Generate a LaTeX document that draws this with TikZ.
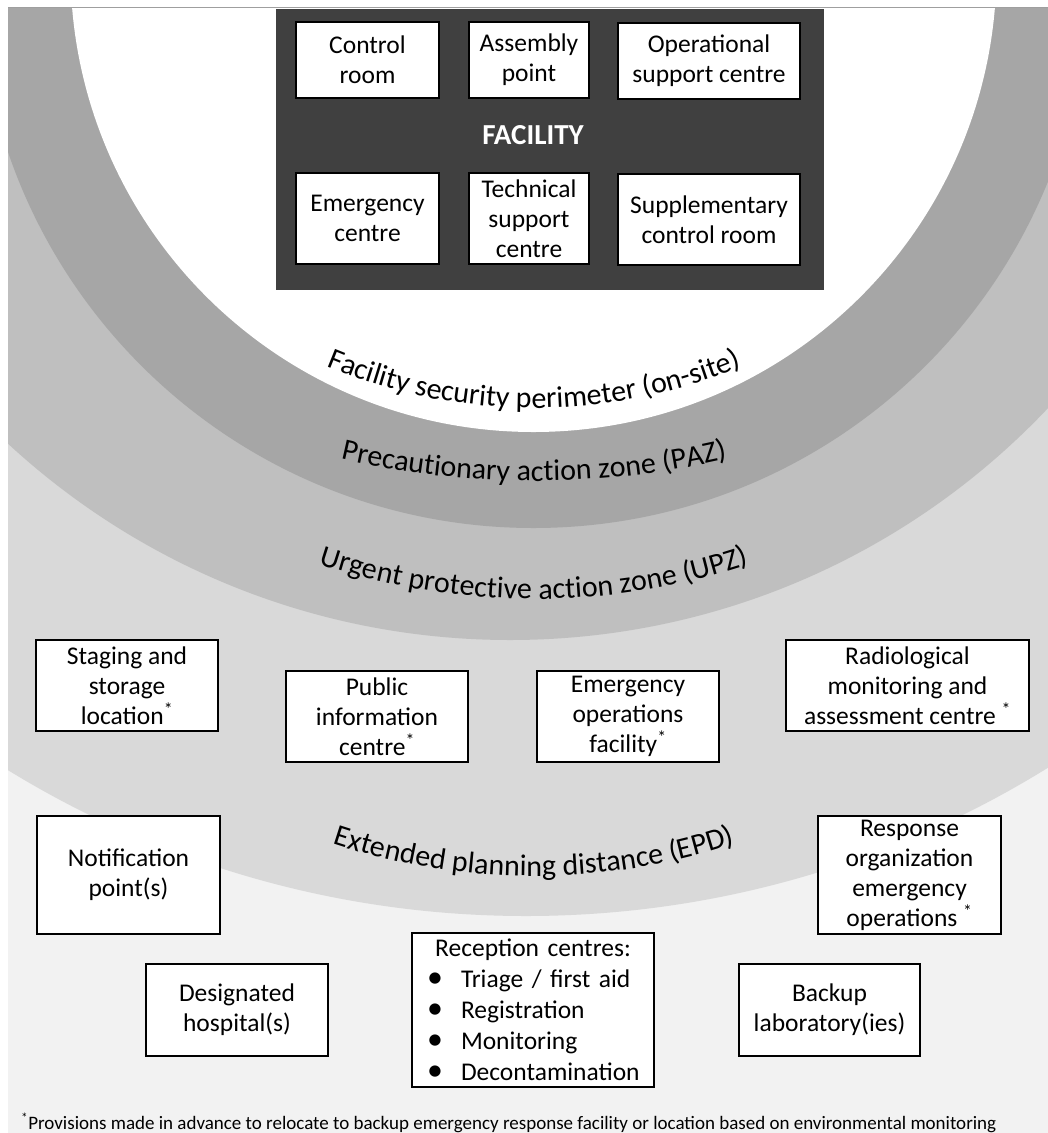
\documentclass[tikz,border=0pt]{standalone}
\usepackage{fontspec}
\setmainfont{Carlito}
\usetikzlibrary{decorations.text,calc}
\definecolor{bgc}{HTML}{F2F2F2}
\definecolor{epdc}{HTML}{D9D9D9}
\definecolor{upzc}{HTML}{BFBFBF}
\definecolor{pazc}{HTML}{A6A6A6}
\definecolor{facc}{HTML}{404040}
\newcommand\arcfont{\fontsize{30}{36}\selectfont}
\newcommand\fnast{\textsuperscript{*}}
\newcommand\bul{\makebox[34pt][l]{\scalebox{1.25}{\textbullet}}}
\begin{document}
\begin{tikzpicture}[x=1pt,y=-1pt,
  box/.style={draw=black, line width=1.6pt, fill=white, align=center, inner sep=0pt,
    font=\fontsize{25.5}{30}\selectfont},
  arctext/.style={decorate, decoration={text along path, text align=center, text={|\arcfont|#1}}}]
\useasboundingbox (0,0) rectangle (1048,1133);
\fill[white] (0,0) rectangle (1048,1133);
\begin{scope}
  \clip (8,7) rectangle (1048,1140);
  \fill[bgc] (8,7) rectangle (1048,1140);
  \fill[epdc] (526,-76) circle[radius=992pt];
  \fill[upzc] (510,-100) circle[radius=740pt];
  \fill[pazc] (533.5,-27) circle[radius=555pt];
  \fill[white] (533.5,-31) circle[radius=463pt];
\end{scope}
\draw[gray!75, line width=1pt] (8,7.5) -- (1048,7.5);

% facility
\node[fill=facc, minimum width=548pt, minimum height=281pt, inner sep=0pt] (fac) at (550,149.5) {};
\node[text=white, font=\fontsize{29}{34}\selectfont\bfseries] (factxt) at (533,135) {FACILITY};
\node[box, minimum width=143pt, minimum height=76pt] (cr) at (367.5,60) {Control\\room};
\node[box, minimum width=120pt, minimum height=76pt] (ap) at (529,60) {Assembly\\point};
\node[box, minimum width=182pt, minimum height=76pt] (osc) at (709,61) {Operational\\support centre};
\node[box, minimum width=143pt, minimum height=91pt] (ec) at (367.5,218.5) {Emergency\\centre};
\node[box, minimum width=120pt, minimum height=91pt] (tsc) at (529,218.5) {Technical\\support\\centre};
\node[box, minimum width=182pt, minimum height=91pt] (scr) at (709,219.5) {Supplementary\\control room};

% arc labels
\path[arctext={Facility security perimeter (on-site)}] ($(534,-132)+(235:540pt)$) arc[start angle=235, end angle=305, radius=540pt];
\path[arctext={Precautionary action zone (PAZ)}] ($(534,-369)+(250:850pt)$) arc[start angle=250, end angle=290, radius=850pt];
\path[arctext={Urgent protective action zone (UPZ)}] ($(534,-81)+(245:680pt)$) arc[start angle=245, end angle=295, radius=680pt];
\path[arctext={Extended planning distance (EPD)}] ($(534,236)+(245:640pt)$) arc[start angle=245, end angle=295, radius=640pt];

% outer boxes
\node[box, minimum width=182pt, minimum height=91pt] (ssl) at (127,685.5) {Staging and\\storage\\location\fnast};
\node[box, minimum width=182pt, minimum height=91pt] (pic) at (377,716.5) {Public\\information\\centre\fnast};
\node[box, minimum width=182pt, minimum height=91pt] (eof) at (628,716.5) {Emergency\\operations\\facility\fnast};
\node[box, minimum width=243pt, minimum height=91pt] (rmac) at (907.5,685.5) {Radiological\\monitoring and\\assessment centre \fnast};
\node[box, minimum width=183pt, minimum height=118pt] (np) at (128.5,875) {Notification\\point(s)};
\node[box, minimum width=183pt, minimum height=118pt] (roeo) at (909.5,875) {Response\\organization\\emergency\\operations \fnast};
\node[box, minimum width=182pt, minimum height=92pt] (dh) at (237,1010) {Designated\\hospital(s)};
\node[box, minimum width=181pt, minimum height=92pt] (bl) at (829.5,1010) {Backup\\laboratory(ies)};
\node[box, minimum width=242pt, minimum height=154pt, align=left, text width=212pt,
  font=\fontsize{25.5}{31}\selectfont] (rc) at (533,1010)
  {\makebox[212pt][c]{Reception centres:}\\
   \bul Triage / first aid\\
   \bul Registration\\
   \bul Monitoring\\
   \bul Decontamination};

% footnote
\node[anchor=base west, inner sep=0pt, font=\fontsize{19}{22}\selectfont] (fn) at (21,1129)
  {\fnast Provisions made in advance to relocate to backup emergency response facility or location based on environmental monitoring};
\end{tikzpicture}
\end{document}
